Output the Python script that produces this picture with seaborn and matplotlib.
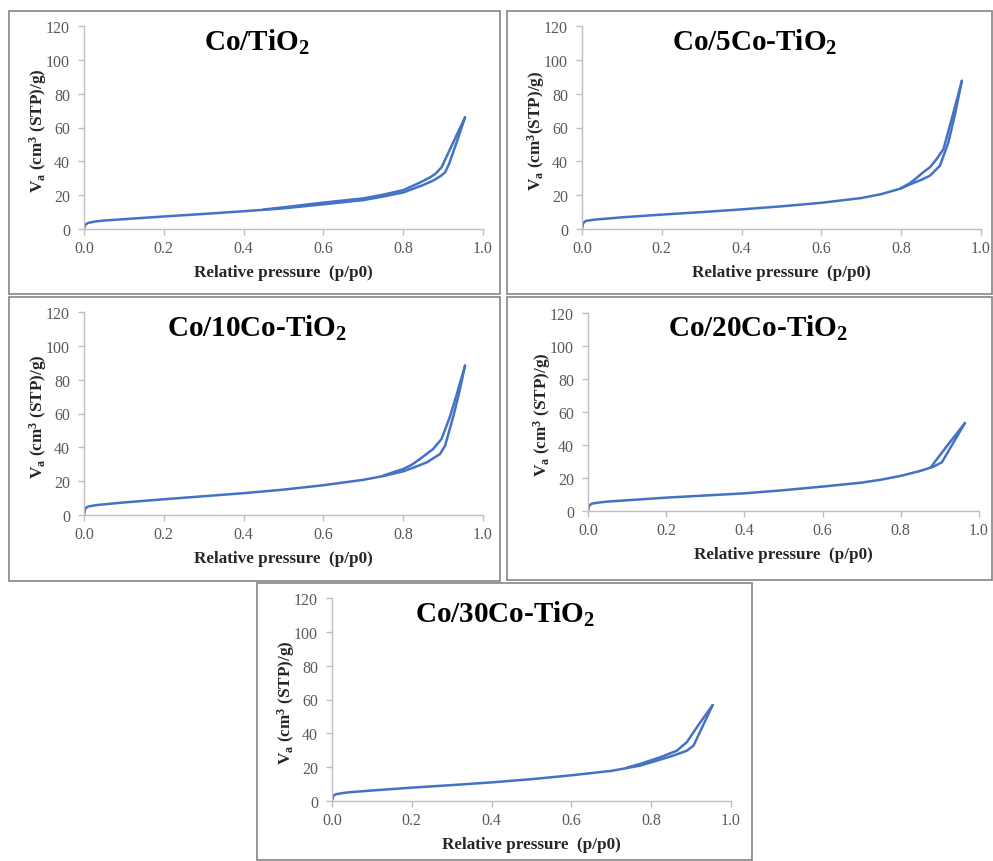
import numpy as np
import pandas as pd
import matplotlib
matplotlib.use("Agg")
import matplotlib.pyplot as plt
from matplotlib.patches import Rectangle
import seaborn as sns

# ---------------- data ----------------
titles = [r"Co/TiO$_2$", r"Co/5Co-TiO$_2$", r"Co/10Co-TiO$_2$",
          r"Co/20Co-TiO$_2$", r"Co/30Co-TiO$_2$"]

# Co/TiO2
tio2_ads_p = [0.0, 0.003, 0.01, 0.03, 0.05, 0.1, 0.2, 0.3, 0.4, 0.5, 0.6, 0.7, 0.75, 0.8, 0.825, 0.85, 0.875, 0.895, 0.905, 0.915, 0.935, 0.955]
tio2_ads_v = [0, 2.5, 3.6, 4.5, 5.0, 5.8, 7.4, 8.9, 10.5, 12.2, 14.6, 17.1, 19.2, 21.6, 23.8, 26.0, 28.6, 31.5, 33.5, 38.5, 52, 66]
tio2_des_p = [0.955, 0.925, 0.896, 0.88, 0.867, 0.845, 0.825, 0.8, 0.75, 0.7, 0.6, 0.5, 0.45]
tio2_des_v = [66, 51, 36.4, 32.5, 30.5, 27.8, 25.6, 23.0, 20.3, 18.1, 15.6, 12.8, 11.5]

# Co/5Co-TiO2
co5_ads_p = [0.0, 0.003, 0.01, 0.03, 0.05, 0.1, 0.2, 0.3, 0.4, 0.5, 0.6, 0.7, 0.75, 0.8, 0.822, 0.85, 0.872, 0.897, 0.918, 0.935, 0.952]
co5_ads_v = [0, 3.5, 4.8, 5.5, 5.9, 6.9, 8.5, 10.0, 11.6, 13.4, 15.5, 18.3, 20.6, 24.0, 26.4, 29.0, 31.5, 37.4, 51.0, 68, 87.6]
co5_des_p = [0.952, 0.93, 0.906, 0.889, 0.872, 0.855, 0.835, 0.82, 0.8]
co5_des_v = [87.6, 68, 47.3, 41.4, 36.5, 33.5, 29.5, 26.8, 24.3]

# Co/10Co-TiO2
co10_ads_p = [0.0, 0.003, 0.01, 0.03, 0.05, 0.1, 0.2, 0.3, 0.4, 0.5, 0.6, 0.7, 0.75, 0.8, 0.83, 0.859, 0.892, 0.905, 0.926, 0.94, 0.955]
co10_ads_v = [0, 3.8, 5.0, 5.8, 6.3, 7.4, 9.3, 11.1, 12.9, 15.0, 17.6, 20.8, 23.0, 25.8, 28.4, 31.1, 36.0, 41.0, 58.7, 72, 88.3]
co10_des_p = [0.955, 0.935, 0.917, 0.896, 0.875, 0.842, 0.82, 0.8, 0.75]
co10_des_v = [88.3, 72, 58.0, 44.9, 39.0, 33.1, 29.5, 27.2, 23.3]

# Co/20Co-TiO2
co20_ads_p = [0.0, 0.003, 0.01, 0.03, 0.05, 0.1, 0.2, 0.3, 0.4, 0.5, 0.6, 0.7, 0.75, 0.8, 0.85, 0.883, 0.905, 0.93, 0.964]
co20_ads_v = [0, 3.2, 4.5, 5.2, 5.7, 6.5, 8.1, 9.4, 10.7, 12.6, 14.8, 17.2, 19.0, 21.3, 24.3, 26.8, 29.5, 39.6, 53.3]
co20_des_p = [0.964, 0.92, 0.877]
co20_des_v = [53.3, 40.0, 26.6]

# Co/30Co-TiO2
co30_ads_p = [0.0, 0.003, 0.01, 0.03, 0.05, 0.1, 0.2, 0.3, 0.4, 0.5, 0.6, 0.7, 0.772, 0.805, 0.855, 0.889, 0.906, 0.93, 0.954]
co30_ads_v = [0, 3.0, 4.0, 4.8, 5.3, 6.2, 7.9, 9.4, 11.0, 12.9, 15.2, 17.8, 20.9, 23.2, 26.8, 29.7, 32.7, 44.7, 56.7]
co30_des_p = [0.954, 0.92, 0.889, 0.864, 0.822, 0.772, 0.74]
co30_des_v = [56.7, 45.5, 34.7, 29.7, 25.8, 21.9, 19.8]

x_ticks = [0.0, 0.2, 0.4, 0.6, 0.8, 1.0]
x_ticklabels = ["0.0", "0.2", "0.4", "0.6", "0.8", "1.0"]
y_ticks = [0, 20, 40, 60, 80, 100, 120]

series = [
    (tio2_ads_p, tio2_ads_v, tio2_des_p, tio2_des_v),
    (co5_ads_p, co5_ads_v, co5_des_p, co5_des_v),
    (co10_ads_p, co10_ads_v, co10_des_p, co10_des_v),
    (co20_ads_p, co20_ads_v, co20_des_p, co20_des_v),
    (co30_ads_p, co30_ads_v, co30_des_p, co30_des_v),
]
ylabels = [r"V$_\mathregular{a}$ (cm$^\mathregular{3}$ (STP)/g)",
           r"V$_\mathregular{a}$ (cm$^\mathregular{3}$(STP)/g)",
           r"V$_\mathregular{a}$ (cm$^\mathregular{3}$ (STP)/g)",
           r"V$_\mathregular{a}$ (cm$^\mathregular{3}$ (STP)/g)",
           r"V$_\mathregular{a}$ (cm$^\mathregular{3}$ (STP)/g)"]

# ---------------- styling ----------------
sns.set_theme(style="ticks")
plt.rcParams["font.family"] = ["Liberation Serif", "DejaVu Serif"]
plt.rcParams["mathtext.fontset"] = "custom"
plt.rcParams["mathtext.rm"] = "Liberation Serif:bold"
plt.rcParams["mathtext.it"] = "Liberation Serif:bold"
plt.rcParams["mathtext.bf"] = "Liberation Serif:bold"
plt.rcParams["mathtext.default"] = "rm"

W, H = 993, 862
fig = plt.figure(figsize=(W / 100, H / 100), dpi=100)
fig.patch.set_facecolor("white")

LINE = "#4472C4"
GRID = "#bfbfbf"
TICKTXT = "#595959"

# axes pixel boxes: (x0, x1, ytop, ybottom)
axes_px = [(84, 483, 27, 230), (582, 981, 27, 230),
           (84, 483, 313, 516), (588, 979, 314, 512),
           (332, 731, 599, 802)]
# panel frames: (x0, y0, x1, y1)
frames_px = [(9, 12, 500, 295), (507, 12, 992, 295),
             (9, 298, 500, 582), (507, 298, 992, 581),
             (257, 584, 752, 861)]

for (fx0, fy0, fx1, fy1) in frames_px:
    fig.add_artist(Rectangle((fx0 / W, 1 - fy1 / H), (fx1 - fx0) / W, (fy1 - fy0) / H,
                             transform=fig.transFigure, facecolor="none",
                             edgecolor="#8f8f8f", linewidth=1.3, zorder=0))

for i, ((x0, x1, yt, yb), (ap, av, dp, dv)) in enumerate(zip(axes_px, series)):
    ax = fig.add_axes([x0 / W, 1 - yb / H, (x1 - x0) / W, (yb - yt) / H])
    ax.set_facecolor("none")
    df = pd.DataFrame({
        "p": list(ap) + list(dp),
        "V": list(av) + list(dv),
        "branch": ["ads"] * len(ap) + ["des"] * len(dp),
    })
    sns.lineplot(data=df, x="p", y="V", units="branch", estimator=None, sort=False,
                 color=LINE, linewidth=1.8, ax=ax, legend=False)
    ax.set_xlim(0, 1.0)
    ax.set_ylim(0, 120)
    ax.set_xticks(x_ticks)
    ax.set_xticklabels(x_ticklabels)
    ax.set_yticks(y_ticks)
    for s in ["top", "right"]:
        ax.spines[s].set_visible(False)
    for s in ["left", "bottom"]:
        ax.spines[s].set_color(GRID)
        ax.spines[s].set_linewidth(1.0)
    ax.tick_params(axis="x", direction="out", length=4, width=1, color=GRID,
                   labelsize=11.5, labelcolor=TICKTXT, pad=4)
    ax.tick_params(axis="y", direction="out", length=4, width=1, color=GRID,
                   labelsize=11.5, labelcolor=TICKTXT, pad=6)
    ax.set_xlabel("Relative pressure  (p/p0)", fontsize=12.3, fontweight="bold", color="#262626")
    ax.xaxis.set_label_coords(0.5, -35 / (yb - yt))
    ax.set_ylabel(ylabels[i], fontsize=12.3, fontweight="bold", color="#262626")
    ax.yaxis.set_label_coords(-35 / (x1 - x0), 0.49)
    ax.text(0.434, 0.925, titles[i], transform=ax.transAxes, ha="center", va="center",
            fontsize=21, fontweight="bold", color="black")

fig.savefig("out.png", dpi=100, facecolor="white")
